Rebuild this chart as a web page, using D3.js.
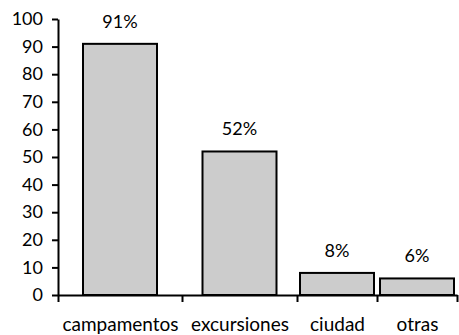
<!DOCTYPE html>
<html>
<head>
<meta charset="utf-8">
<script src="https://cdn.jsdelivr.net/npm/d3@7"></script>
<style>
  html, body { margin: 0; padding: 0; background: #fff; }
  svg { display: block; }
  .tick text { font-family: Lato, "Open Sans", sans-serif; }
</style>
</head>
<body>
<svg id="chart" width="459" height="335"></svg>
<script>
// Destinations and their share (%)
const categories = ["campamentos", "excursiones", "ciudad", "otras"];
const values = [91, 52, 8, 6];
const valueLabels = ["91%", "52%", "8%", "6%"];
const yTicks = [0, 10, 20, 30, 40, 50, 60, 70, 80, 90, 100];

// Relative width of each category slot along the x axis
const slotWeights = [124, 115, 80, 80];

const svg = d3.select("#chart");
const plot = { left: 58, right: 457, top: 19, bottom: 295 };
const barWidth = 74;

const y = d3.scaleLinear().domain([0, 100]).range([plot.bottom, plot.top]);

// Cumulative slot edges mapped onto the plot width
const edgesU = [0];
slotWeights.forEach(w => edgesU.push(edgesU[edgesU.length - 1] + w));
const xu = d3.scaleLinear().domain([0, d3.sum(slotWeights)]).range([plot.left, plot.right]);
const center = d3.scaleOrdinal()
  .domain(categories)
  .range(categories.map((c, i) => xu((edgesU[i] + edgesU[i + 1]) / 2)));

// Bars
svg.append("g").selectAll("rect")
  .data(categories)
  .join("rect")
  .attr("x", (c) => center(c) - barWidth / 2)
  .attr("width", barWidth)
  .attr("y", (c, i) => y(values[i]))
  .attr("height", (c, i) => y(0) - y(values[i]))
  .attr("fill", "#cccccc")
  .attr("stroke", "#000")
  .attr("stroke-width", 2);

// Value labels above bars
svg.append("g").selectAll("text")
  .data(categories)
  .join("text")
  .attr("x", (c) => center(c))
  .attr("y", (c, i) => y(values[i]) - 16)
  .attr("text-anchor", "middle")
  .attr("font-family", "Lato, 'Open Sans', sans-serif")
  .attr("font-size", 18)
  .attr("fill", "#000")
  .text((c, i) => valueLabels[i]);

// Y axis
const yAxis = svg.append("g")
  .attr("transform", `translate(${plot.left},0)`)
  .call(d3.axisLeft(y).tickValues(yTicks).tickSize(6).tickSizeOuter(0).tickPadding(9));
yAxis.select(".domain").attr("stroke-width", 2);
yAxis.selectAll(".tick line").attr("stroke-width", 2);
yAxis.selectAll(".tick text").attr("font-size", 18).attr("fill", "#000");

// X axis with tick marks at slot edges
const xAxis = svg.append("g")
  .attr("transform", `translate(0,${plot.bottom})`)
  .call(d3.axisBottom(xu).tickValues(edgesU).tickSize(7).tickSizeOuter(0).tickFormat(""));
xAxis.select(".domain").attr("stroke-width", 2);
xAxis.selectAll(".tick line").attr("stroke-width", 2);

// Category labels centred under each slot
const xLabels = svg.append("g")
  .attr("transform", `translate(0,${plot.bottom})`)
  .call(d3.axisBottom(center).tickSize(0).tickPadding(23));
xLabels.select(".domain").remove();
xLabels.selectAll(".tick text")
  .attr("font-size", 19)
  .attr("fill", "#000");
</script>
</body>
</html>
